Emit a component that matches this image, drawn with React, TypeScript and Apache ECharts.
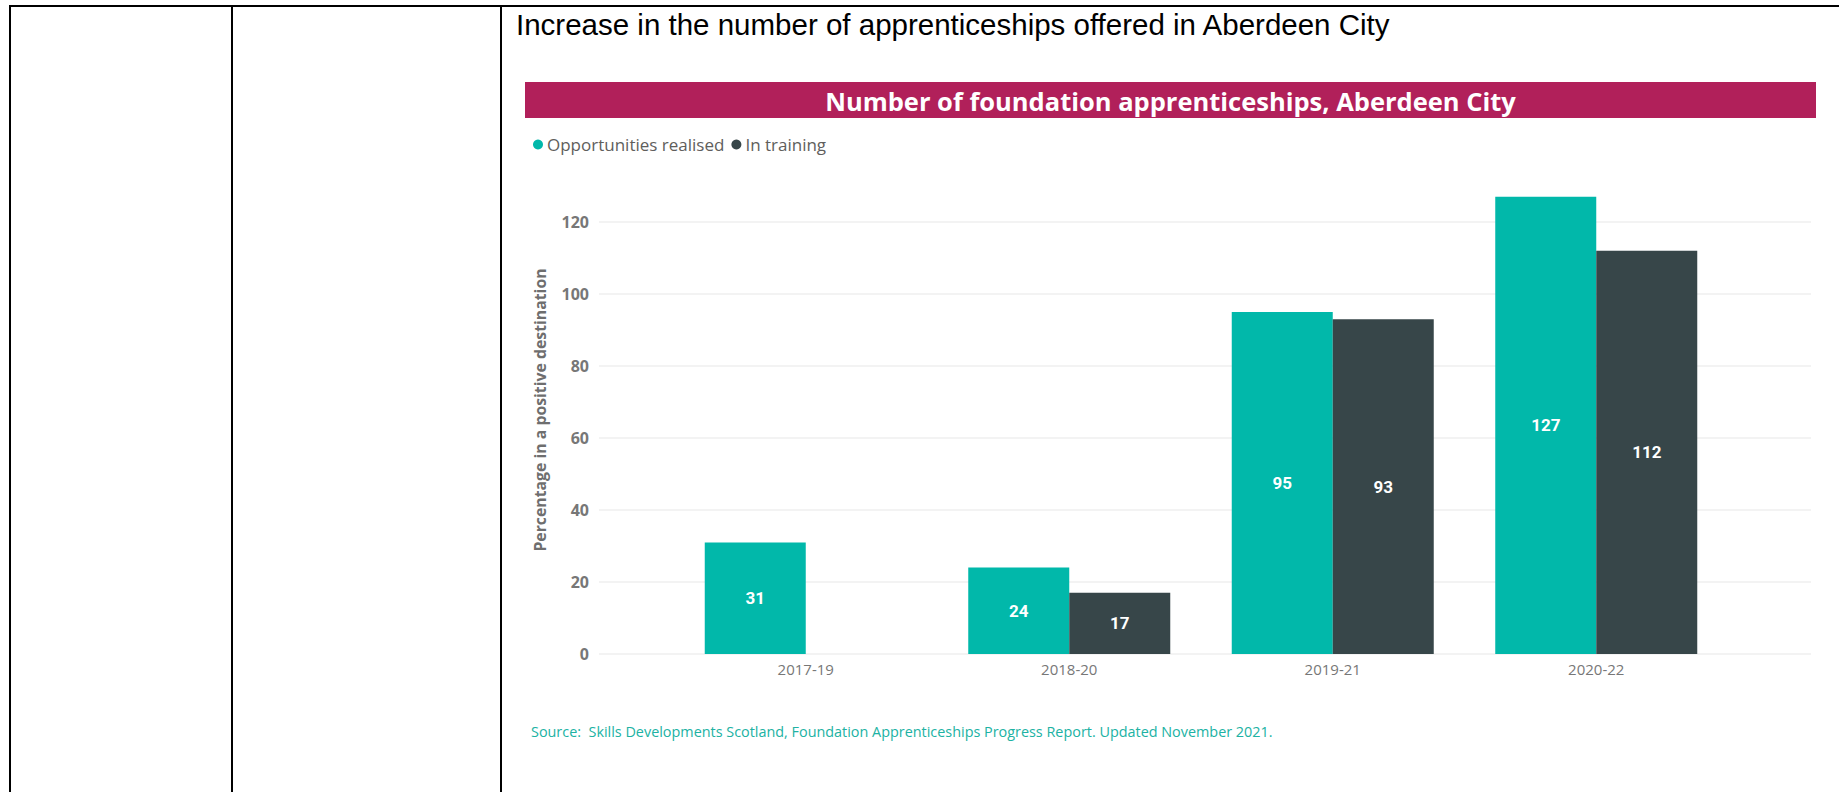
import React, { useEffect, useRef } from "react";
import * as echarts from "echarts";

const categories = ["2017-19", "2018-20", "2019-21", "2020-22"];
const realised = [31, 24, 95, 127];
const inTraining: (number | null)[] = [null, 17, 93, 112];
const yTicks = { min: 0, max: 120, interval: 20 };

const heading = "Increase in the number of apprenticeships offered in Aberdeen City";
const chartTitle = "Number of foundation apprenticeships, Aberdeen City";
const yName = "Percentage in a positive destination";
const source =
  "Source:  Skills Developments Scotland, Foundation Apprenticeships Progress Report. Updated November 2021.";

const TEAL = "#01B8AA";
const DARK = "#374649";

export default function App() {
  const ref = useRef<HTMLDivElement>(null);
  useEffect(() => {
    document.body.style.margin = "0";
    const chart = echarts.init(ref.current!, null, { renderer: "svg" });
    const ui = "'Open Sans', 'Noto Sans', sans-serif";
    chart.setOption({
      animation: false,
      backgroundColor: "#ffffff",
      legend: {
        data: ["Opportunities realised", "In training"],
        left: 528,
        top: 131,
        icon: "circle",
        itemWidth: 10,
        itemHeight: 10,
        itemGap: 7,
        textStyle: { fontFamily: ui, fontSize: 17, color: "#605E5C", padding: [0, 0, 0, -1] },
      },
      grid: [
        { left: 599, right: 28, top: 222, bottom: 138 },
        { left: 674, right: 111, top: 222, bottom: 138 },
      ],
      xAxis: [
        { gridIndex: 0, type: "category", data: [""], show: false },
        {
          gridIndex: 1,
          type: "category",
          data: categories,
          axisLine: { show: false },
          axisTick: { show: false },
          axisLabel: { fontFamily: ui, fontSize: 15, color: "#777777", margin: 7 },
        },
      ],
      yAxis: [
        {
          gridIndex: 0,
          type: "value",
          min: yTicks.min,
          max: yTicks.max,
          interval: yTicks.interval,
          axisLine: { show: false },
          axisTick: { show: false },
          splitLine: { lineStyle: { color: "#EFEFEF", width: 1.5 } },
          axisLabel: { fontFamily: ui, fontSize: 16, fontWeight: "bold", color: "#777777", margin: 10 },
        },
        {
          gridIndex: 1,
          type: "value",
          min: yTicks.min,
          max: yTicks.max,
          interval: yTicks.interval,
          show: false,
          splitLine: { show: false },
        },
      ],
      series: [
        {
          name: "Opportunities realised",
          type: "bar",
          xAxisIndex: 1,
          yAxisIndex: 1,
          data: realised,
          barWidth: 101,
          barGap: "0%",
          clip: false,
          itemStyle: { color: TEAL },
          label: {
            show: true,
            position: "inside",
            color: "#ffffff",
            fontFamily: "Roboto, sans-serif",
            fontWeight: "bold",
            fontSize: 17,
          },
        },
        {
          name: "In training",
          type: "bar",
          xAxisIndex: 1,
          yAxisIndex: 1,
          data: inTraining,
          barWidth: 101,
          barGap: "0%",
          clip: false,
          itemStyle: { color: DARK },
          label: {
            show: true,
            position: "inside",
            color: "#ffffff",
            fontFamily: "Roboto, sans-serif",
            fontWeight: "bold",
            fontSize: 17,
          },
        },
      ],
      graphic: [
        { type: "rect", shape: { x: 9, y: 5, width: 1830, height: 2 }, style: { fill: "#000" } },
        { type: "rect", shape: { x: 9, y: 5, width: 2, height: 787 }, style: { fill: "#000" } },
        { type: "rect", shape: { x: 231, y: 5, width: 2, height: 787 }, style: { fill: "#000" } },
        { type: "rect", shape: { x: 500, y: 5, width: 2, height: 787 }, style: { fill: "#000" } },
        {
          type: "text",
          x: 516,
          y: 24,
          style: {
            text: heading,
            fontFamily: "'Liberation Sans', Arial, sans-serif",
            fontSize: 29.5,
            fill: "#000",
            verticalAlign: "middle",
          },
        },
        { type: "rect", shape: { x: 525, y: 82, width: 1291, height: 36 }, style: { fill: "#B1205A" } },
        {
          type: "text",
          x: 1170.5,
          y: 101,
          style: {
            text: chartTitle,
            fontFamily: ui,
            fontWeight: "bold",
            fontSize: 25.5,
            fill: "#ffffff",
            align: "center",
            verticalAlign: "middle",
          },
        },
        {
          type: "text",
          x: 540,
          y: 410,
          rotation: Math.PI / 2,
          style: {
            text: yName,
            fontFamily: ui,
            fontWeight: "bold",
            fontSize: 15.8,
            fill: "#6E6E6E",
            align: "center",
            verticalAlign: "middle",
          },
        },
        {
          type: "text",
          x: 531,
          y: 731,
          style: {
            text: source,
            fontFamily: ui,
            fontSize: 14.4,
            fill: "#20B2A3",
            verticalAlign: "middle",
          },
        },
      ],
    });
    return () => chart.dispose();
  }, []);
  return <div ref={ref} style={{ position: "fixed", left: 0, top: 0, width: 1839, height: 792 }} />;
}
